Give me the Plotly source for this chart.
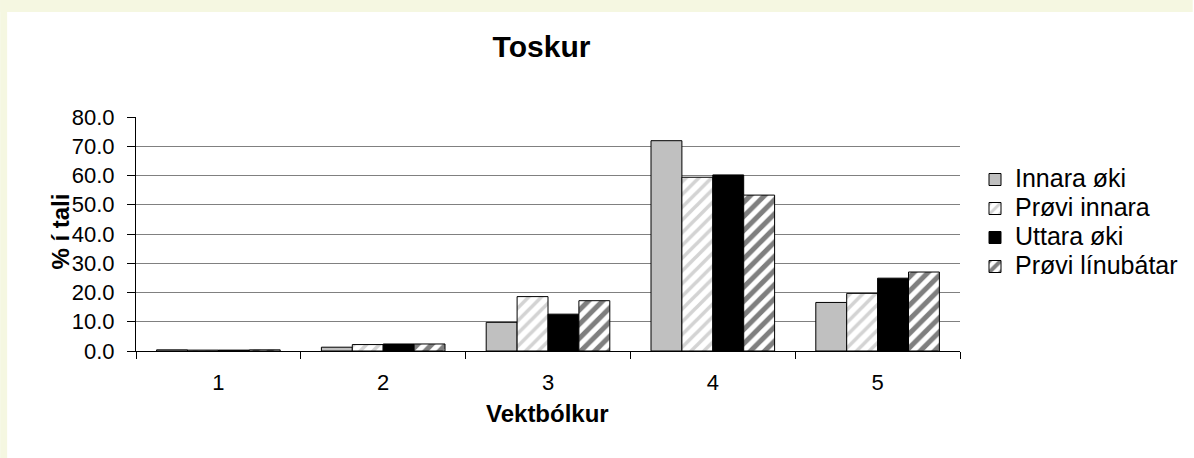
import plotly.graph_objects as go

# Data
categories = ["1", "2", "3", "4", "5"]
innara_oki = [0.4, 1.3, 9.8, 71.9, 16.6]
provi_innara = [0.3, 2.2, 18.6, 59.4, 19.7]
uttara_oki = [0.3, 2.4, 12.6, 60.2, 24.9]
provi_linubatar = [0.4, 2.4, 17.2, 53.3, 27.0]
series_names = ["Innara øki", "Prøvi innara", "Uttara øki", "Prøvi línubátar"]

W, H = 1194, 458
# plot area in pixels
L, R, T, B = 136, 961, 117, 351


def px(x):
    return (x - L) / (R - L)


def py(y):
    return (B - y) / (B - T)


def legend_name(s):
    # bigger text than the legend font so the rows stay tight
    return '<span style="font-size:25px">' + s + "</span>"


FONT = "Liberation Sans, Arial, sans-serif"

fig = go.Figure()

fig.add_trace(go.Bar(
    x=categories, y=innara_oki, name=legend_name(series_names[0]),
    marker=dict(color="#C0C0C0", line=dict(color="black", width=1))
))
fig.add_trace(go.Bar(
    x=categories, y=provi_innara, name=legend_name(series_names[1]),
    marker=dict(color="white", line=dict(color="black", width=1),
                pattern=dict(shape="/", fgcolor="#A8A8A8", bgcolor="white",
                             size=9, solidity=0.4))
))
fig.add_trace(go.Bar(
    x=categories, y=uttara_oki, name=legend_name(series_names[2]),
    marker=dict(color="black", line=dict(color="black", width=1))
))
fig.add_trace(go.Bar(
    x=categories, y=provi_linubatar, name=legend_name(series_names[3]),
    marker=dict(color="white", line=dict(color="black", width=1),
                pattern=dict(shape="/", fgcolor="black", bgcolor="white",
                             size=10, solidity=0.5))
))

# beige frame on the left and top
beige = "#F5F7E1"
fig.add_shape(type="rect", xref="paper", yref="paper", layer="below",
              x0=px(0), x1=px(7), y0=py(H), y1=py(0),
              fillcolor=beige, line=dict(width=0))
fig.add_shape(type="rect", xref="paper", yref="paper", layer="below",
              x0=px(0), x1=px(W), y0=py(12), y1=py(0),
              fillcolor=beige, line=dict(width=0))

# axis titles
fig.add_annotation(text="<b>Vektbólkur</b>", xref="paper", yref="paper",
                   x=px(548), y=py(429), showarrow=False,
                   font=dict(size=24, color="black", family=FONT))
fig.add_annotation(text="<b>% í tali</b>", xref="paper", yref="paper",
                   x=px(44), y=py(232), showarrow=False, textangle=-90,
                   font=dict(size=24, color="black", family=FONT))

fig.update_layout(
    width=W, height=H,
    margin=dict(l=L, r=W - R, t=T, b=H - B),
    paper_bgcolor="white", plot_bgcolor="white",
    font=dict(family=FONT, color="black", size=22),
    title=dict(text="<b>Toskur</b>", xref="paper", x=px(542), xanchor="center",
               yref="container", y=1 - 46 / H, yanchor="middle",
               font=dict(size=30, color="black", family=FONT)),
    barmode="group", bargap=0.25, bargroupgap=0,
    legend=dict(x=px(975), y=py(160), xanchor="left", yanchor="top",
                font=dict(size=20), itemwidth=30, tracegroupgap=0,
                bgcolor="rgba(0,0,0,0)"),
    xaxis=dict(type="category", showline=True, linecolor="black", linewidth=1,
               ticks="outside", tickson="boundaries", ticklen=7, tickcolor="black",
               ticklabelstandoff=12, showgrid=False),
    yaxis=dict(range=[0, 80], dtick=10, tickformat=".1f", showline=True,
               linecolor="black", linewidth=1, ticks="outside", ticklen=8,
               tickcolor="black", ticklabelstandoff=8, showgrid=True,
               gridcolor="#808080", gridwidth=1, zeroline=False),
)

# drop the default 8px body margin so the figure sits at the page corner
fig.write_html("out.html", config={"displayModeBar": False},
               post_script="document.body.style.margin='0';")
